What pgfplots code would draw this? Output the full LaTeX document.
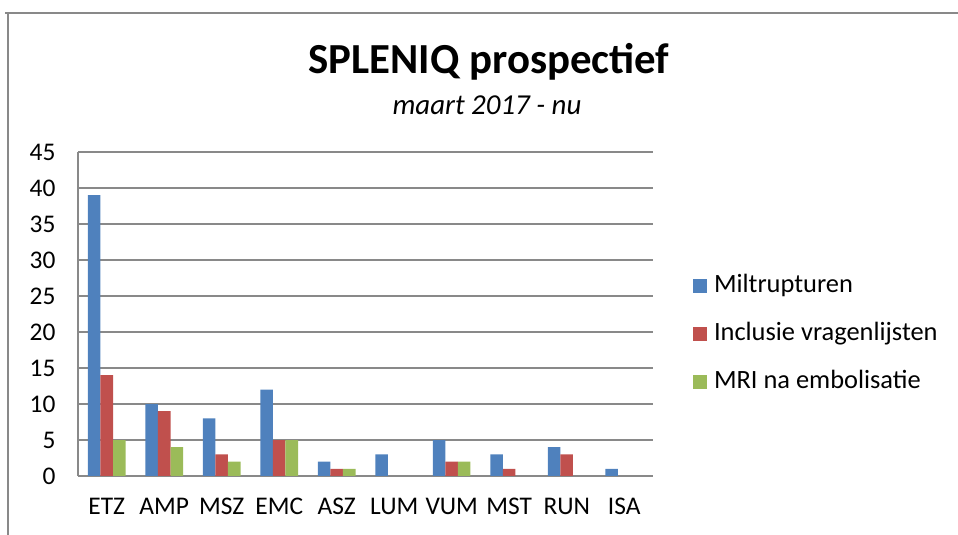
\documentclass[border=0pt]{standalone}
\usepackage{pgfplots}
\pgfplotsset{compat=1.18}
\usepackage{fontspec}
\setmainfont{Carlito}
\definecolor{cblue}{HTML}{4F81BD}
\definecolor{cred}{HTML}{C0504D}
\definecolor{cgreen}{HTML}{9BBB59}
\definecolor{gridc}{HTML}{898989}
\begin{document}
\begin{tikzpicture}
\path[use as bounding box] (0,0) rectangle (958bp,535bp);
\draw[gridc, line width=1.5bp] (5bp,522bp) -- (958bp,522bp);
\draw[gridc, line width=1.5bp] (8bp,522bp) -- (8bp,0bp);
\node[font=\fontsize{43}{50}\selectfont\bfseries, anchor=base, inner sep=0pt] at (489bp,461bp) {SPLENIQ prospectief};
\node[font=\fontsize{29}{34}\selectfont\itshape, anchor=base, inner sep=0pt] at (487bp,420bp) {maart 2017 - nu};
\begin{axis}[
  at={(78bp,59bp)}, anchor=south west,
  scale only axis, width=575bp, height=324bp,
  xmin=-0.5, xmax=9.5, ymin=0, ymax=45,
  ybar=0pt, bar width=12.5bp,
  xtick={0,...,9},
  xticklabels={ETZ,AMP,MSZ,EMC,ASZ,LUM,VUM,MST,RUN,ISA},
  ytick={0,5,...,45},
  major tick length=0pt,
  axis x line*=bottom, axis y line*=left,
  axis line style={-, gridc, line width=1.5bp},
  ymajorgrids, grid style={gridc, line width=1.2bp},
  tick label style={font=\fontsize{25.5}{30}\selectfont},
  /pgf/number format/assume math mode=true,
  yticklabel style={xshift=-19bp},
  xticklabel style={yshift=-18.5bp},
  legend style={at={(1.0696,0.438)}, anchor=west, draw=none, fill=none,
    inner sep=0pt, outer sep=0pt,
    font=\fontsize{26.5}{31}\selectfont, row sep=16bp,
    nodes={text height=18bp, text depth=6bp, inner sep=4bp},
    /tikz/every odd column/.append style={column sep=3bp}},
  legend cell align=left,
  legend image code/.code={\fill[#1] (0bp,-7bp) rectangle (14bp,7bp);},
]
\addplot[fill=cblue, draw=none] coordinates {(0,39) (1,10) (2,8) (3,12) (4,2) (5,3) (6,5) (7,3) (8,4) (9,1)};
\addplot[fill=cred, draw=none] coordinates {(0,14) (1,9) (2,3) (3,5) (4,1) (5,0) (6,2) (7,1) (8,3) (9,0)};
\addplot[fill=cgreen, draw=none] coordinates {(0,5) (1,4) (2,2) (3,5) (4,1) (5,0) (6,2) (7,0) (8,0) (9,0)};
\legend{Miltrupturen, Inclusie vragenlijsten, MRI na embolisatie}
\end{axis}
\end{tikzpicture}
\end{document}
